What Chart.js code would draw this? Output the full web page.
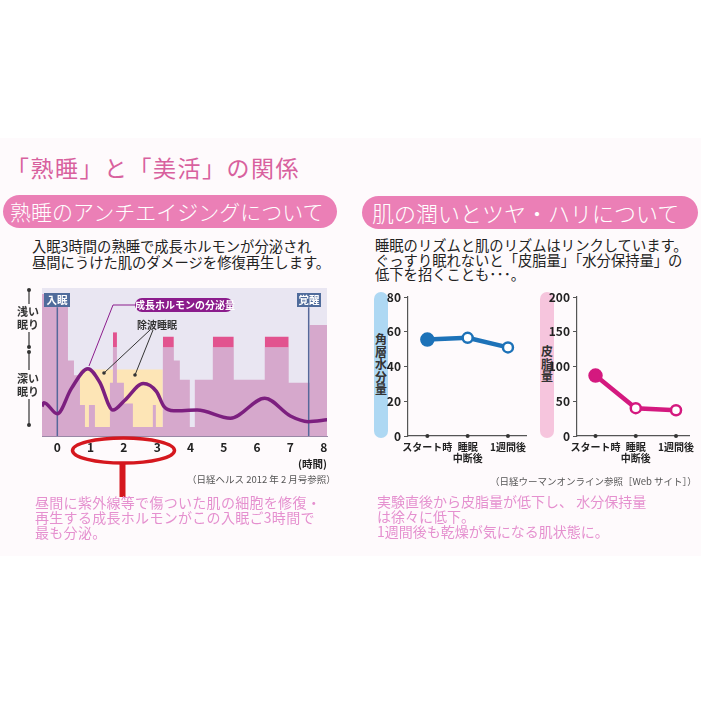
<!DOCTYPE html>
<html><head><meta charset="utf-8">
<script src="https://cdn.jsdelivr.net/npm/chart.js@4.4.1/dist/chart.umd.min.js"></script>
<style>
html,body{margin:0;padding:0;background:#fff;}
body{width:701px;height:701px;position:relative;overflow:hidden;font-family:'Noto Sans CJK JP','Noto Sans',sans-serif;}
.abs{position:absolute;white-space:nowrap;}
#band{left:0;top:138px;width:701px;height:418px;background:#fefafc;}
#title{left:6px;top:152px;font-size:23px;line-height:30px;color:#d8619e;letter-spacing:1.5px;}
.pill{height:33px;border-radius:17px;background:#eb7fb6;color:#fff;line-height:33px;font-weight:300;}
#pillL{left:3px;top:195px;width:327px;padding-left:7px;font-size:21px;}
#pillR{left:362px;top:196px;width:326px;padding-left:10px;font-size:22px;}
.sub{font-size:14.3px;line-height:15.5px;color:#222;}
#subL{left:32px;top:238px;}
#subR{left:375px;top:238px;line-height:14.5px;}
.pink{font-size:14px;line-height:15px;color:#e590cf;}
#noteL{left:35px;top:495px;letter-spacing:0.3px;}
#noteR{left:377px;top:494px;}
.src{font-size:9.5px;color:#555;}
#srcL{left:187px;top:472px;}
#srcR{left:490px;top:474px;}
.tag{height:14px;background:#4f6b9b;color:#fff;font-size:10.5px;font-weight:bold;line-height:14px;text-align:center;}
#tagOn{left:44px;top:293px;width:26px;}
#tagWake{left:297px;top:293px;width:24px;}
#ghPill{left:135px;top:298px;width:98px;height:14px;border-radius:7px;background:#8b1c8c;color:#fff;font-size:10px;font-weight:bold;line-height:14px;text-align:center;}
#sws{left:137px;top:317px;font-size:10px;font-weight:bold;color:#333;}
#unit{left:298px;top:456px;font-size:10.5px;font-weight:bold;color:#222;}
.depth{font-size:11px;font-weight:bold;color:#333;line-height:13px;}
#light{left:17px;top:305px;}
#deep{left:17px;top:372px;}
.vpill{width:14px;height:146px;border-radius:7px;top:292px;}
#vpA{left:374px;background:#aed8f3;}
#vpB{left:540px;background:#f6c5dd;}
.vtxt{font-size:12px;font-weight:bold;color:#333;line-height:12.5px;width:14px;white-space:normal;text-align:center;}
#vtA{left:374px;top:333px;}
#vtB{left:540px;top:345px;}
canvas{position:absolute;}
</style></head>
<body>
<div id="band" class="abs"></div>
<div id="title" class="abs">「熟睡」と「美活」の関係</div>
<div id="pillL" class="abs pill">熟睡のアンチエイジングについて</div>
<div id="pillR" class="abs pill">肌の潤いとツヤ・ハリについて</div>
<div id="subL" class="abs sub">入眠3時間の熟睡で成長ホルモンが分泌され<br>昼間にうけた肌のダメージを修復再生します。</div>
<div id="subR" class="abs sub">睡眠のリズムと肌のリズムはリンクしています。<br>ぐっすり眠れないと「皮脂量」「水分保持量」の<br>低下を招くことも･･･。</div>
<div id="vpA" class="abs vpill"></div>
<div id="vpB" class="abs vpill"></div>
<div id="vtA" class="abs vtxt">角<br>層<br>水<br>分<br>量</div>
<div id="vtB" class="abs vtxt">皮<br>脂<br>量</div>

<canvas id="sleep" width="350" height="200" style="left:0;top:280px;"></canvas>
<canvas id="moist" width="175" height="200" style="left:360px;top:280px;"></canvas>
<canvas id="sebum" width="163" height="200" style="left:537px;top:280px;"></canvas>

<svg class="abs" style="left:0;top:0;" width="701" height="701">
  <g stroke="#333" stroke-width="1.2">
    <line x1="29" y1="290" x2="29" y2="304"/>
    <line x1="29" y1="332" x2="29" y2="347"/>
    <line x1="29" y1="352" x2="29" y2="370"/>
    <line x1="29" y1="399" x2="29" y2="425"/>
  </g>
  <g fill="#333">
    <circle cx="29" cy="290" r="2"/><circle cx="29" cy="347" r="2"/>
    <circle cx="29" cy="352" r="2"/><circle cx="29" cy="425" r="2"/>
  </g>
  <polyline points="136,305 113,305 89,366" fill="none" stroke="#8b1c8c" stroke-width="1"/>
  <g stroke="#333" stroke-width="1">
    <line x1="150" y1="330" x2="104" y2="373"/>
    <line x1="153" y1="330" x2="135" y2="375"/>
  </g>
  <circle cx="104" cy="373" r="1.8" fill="#333"/>
  <circle cx="135" cy="375" r="1.8" fill="#333"/>
  <ellipse cx="123.5" cy="450.5" rx="51" ry="12.5" fill="none" stroke="#d5171e" stroke-width="3.5"/>
  <rect x="119.5" y="463" width="6" height="34" fill="#d5171e"/>
</svg>

<div id="tagOn" class="abs tag">入眠</div>
<div id="tagWake" class="abs tag">覚醒</div>
<div id="ghPill" class="abs">成長ホルモンの分泌量</div>
<div id="sws" class="abs">除波睡眠</div>
<div id="unit" class="abs">(時間)</div>
<div id="light" class="abs depth">浅い<br>眠り</div>
<div id="deep" class="abs depth">深い<br>眠り</div>
<div id="srcL" class="abs src">（日経ヘルス 2012 年 2 月号参照）</div>
<div id="srcR" class="abs src">（日経ウーマンオンライン参照［Web サイト］）</div>
<div id="noteL" class="abs pink">昼間に紫外線等で傷ついた肌の細胞を修復・<br>再生する成長ホルモンがこの入眠ご3時間で<br>最も分泌。</div>
<div id="noteR" class="abs pink">実験直後から皮脂量が低下し、 水分保持量<br>は徐々に低下。<br>1週間後も乾燥が気になる肌状態に。</div>

<script>
// ---- left chart data (hours after sleep onset, sleep depth 0-100 where 100 = awake/light) ----
const hourTicks = [0, 1, 2, 3, 4, 5, 6, 7, 8];
const stageStart = [-0.46, 0.32, 0.5, 0.68, 0.83, 0.95, 1.13, 1.58, 1.67, 1.79, 2.0, 2.27, 2.87, 2.96, 3.17, 3.5, 3.68, 3.98, 4.13, 4.67, 5.3, 6.23, 6.95, 7.58, 8.13];
const stageLevel = [96, 51, 41, 21, 6, 21, 6, 36, 60, 36, 22, 6, 21, 6, 60, 51, 38, 6, 38, 60, 38, 60, 36, 75, 75];
const remStart = [1.67, 3.17, 4.67, 6.23];
const remEnd = [1.79, 3.5, 5.3, 6.95];
const remBase = [60, 60, 60, 60];
const remTop = [70, 67, 67, 67];
const swsSpan = [0.68, 3.17];
const swsLevel = [6, 45];
const ghHours = [-0.46, -0.4, 0.0, 0.42, 0.92, 1.27, 1.67, 2.02, 2.58, 2.98, 3.2, 3.5, 4.2, 5.2, 6.23, 7.0, 7.53, 8.13];
const ghLevel = [20, 22.5, 15, 32, 45.5, 36.5, 17.5, 24, 35.5, 30, 20, 17, 17.5, 12, 25.5, 13.5, 9.7, 11];
const sleepOnset = 0;
const wakeUp = 7.55;
const markerTop = 87;

// ---- right charts data ----
const skinStages = ['スタート時', ['睡眠', '中断後'], '1週間後'];
const moisture = [55.5, 56.5, 51];
const sebum = [87, 40, 37];
const moistureTicks = [0, 20, 40, 60, 80];
const sebumTicks = [0, 50, 100, 150, 200];

const CJK = "'Noto Sans CJK JP', 'Noto Sans', sans-serif";

const plotBg = {
  id: 'plotBg',
  beforeDraw(chart) {
    const a = chart.chartArea, c = chart.ctx;
    c.save(); c.fillStyle = '#e9e6f2';
    c.fillRect(a.left, a.top, a.right - a.left, a.bottom - a.top);
    c.restore();
  }
};

const sleepDatasets = [];
sleepDatasets.push({
  data: ghHours.map((h, i) => ({x: h, y: ghLevel[i]})),
  borderColor: '#7c1f7f', borderWidth: 3.5, pointRadius: 0,
  cubicInterpolationMode: 'monotone', fill: false, order: 0
});
[sleepOnset, wakeUp].forEach(h => sleepDatasets.push({
  data: [{x: h, y: 0}, {x: h, y: markerTop}],
  borderColor: '#56689a', borderWidth: 1.5, pointRadius: 0, fill: false, order: 1
}));
remStart.forEach((s, i) => sleepDatasets.push({
  data: [{x: s, y: remTop[i]}, {x: remEnd[i], y: remTop[i]}],
  borderWidth: 0, pointRadius: 0, backgroundColor: '#e2538f',
  fill: {value: remBase[i]}, order: 2
}));
sleepDatasets.push({
  data: stageStart.map((h, i) => ({x: h, y: stageLevel[i]})),
  stepped: 'before', borderWidth: 0, pointRadius: 0,
  backgroundColor: '#d6a8cc', fill: 'origin', order: 3
});
sleepDatasets.push({
  data: [{x: swsSpan[0], y: swsLevel[1]}, {x: swsSpan[1], y: swsLevel[1]}],
  borderWidth: 0, pointRadius: 0, backgroundColor: '#fde5b6',
  fill: {value: swsLevel[0]}, order: 4
});

new Chart(document.getElementById('sleep'), {
  type: 'line',
  data: {datasets: sleepDatasets},
  plugins: [plotBg],
  options: {
    responsive: false, animation: false, devicePixelRatio: 1,
    layout: {padding: {left: 42, right: 23, top: 8, bottom: 0}},
    plugins: {legend: {display: false}, tooltip: {enabled: false}},
    scales: {
      x: {
        type: 'linear', min: -0.46, max: 8.1,
        afterFit: s => { s.height = 44; },
        afterBuildTicks: s => { s.ticks = hourTicks.map(v => ({value: v})); },
        grid: {display: false, drawTicks: false},
        border: {display: true, color: '#9a88a6', width: 1},
        ticks: {padding: 4, color: '#222', maxRotation: 0, autoSkip: false,
                font: {family: CJK, size: 12, weight: 'bold'}}
      },
      y: {type: 'linear', min: 0, max: 100, display: false}
    }
  }
});

function skinChart(id, values, ticks, color, yWidth, rightPad, xmin, xmax) {
  return new Chart(document.getElementById(id), {
    type: 'line',
    data: {datasets: [
      {
        data: values.map((v, i) => ({x: i, y: v})),
        borderColor: color, borderWidth: 4.5,
        pointRadius: [6, 5, 5], pointBorderWidth: 2.5,
        pointBackgroundColor: [color, '#fff', '#fff'], pointBorderColor: color,
        fill: false, order: 0
      },
      {
        data: values.map((v, i) => ({x: i, y: 0})),
        showLine: false, pointRadius: 2, pointBackgroundColor: '#333',
        pointBorderWidth: 0, clip: false, order: 1
      }
    ]},
    options: {
      responsive: false, animation: false, devicePixelRatio: 1,
      layout: {padding: {left: 0, right: rightPad, top: 17, bottom: 0}},
      plugins: {legend: {display: false}, tooltip: {enabled: false}},
      scales: {
        x: {
          type: 'linear', min: xmin, max: xmax,
          afterFit: s => { s.height = 44; },
          afterBuildTicks: s => { s.ticks = skinStages.map((_, i) => ({value: i})); },
          grid: {display: false, drawTicks: false},
          border: {display: true, color: '#555', width: 1.2},
          ticks: {padding: 5, color: '#222', maxRotation: 0, minRotation: 0, autoSkip: false,
                  callback: v => skinStages[v],
                  font: {family: CJK, size: 10, weight: 'bold', lineHeight: 1.15}}
        },
        y: {
          type: 'linear', min: ticks[0], max: ticks[ticks.length - 1],
          afterFit: s => { s.width = yWidth; },
          afterBuildTicks: s => { s.ticks = ticks.map(v => ({value: v})); },
          grid: {drawOnChartArea: false, drawTicks: true, tickLength: 4, tickColor: '#555', color: '#555'},
          border: {display: true, color: '#555', width: 1.2},
          ticks: {padding: 3, color: '#222', font: {family: CJK, size: 12, weight: 'bold'}}
        }
      }
    }
  });
}
skinChart('moist', moisture, moistureTicks, '#1d72b8', 48, 5, -0.48, 2.46);
skinChart('sebum', sebum, sebumTicks, '#d4197f', 40, 8, -0.46, 2.34);
</script>
</body></html>
